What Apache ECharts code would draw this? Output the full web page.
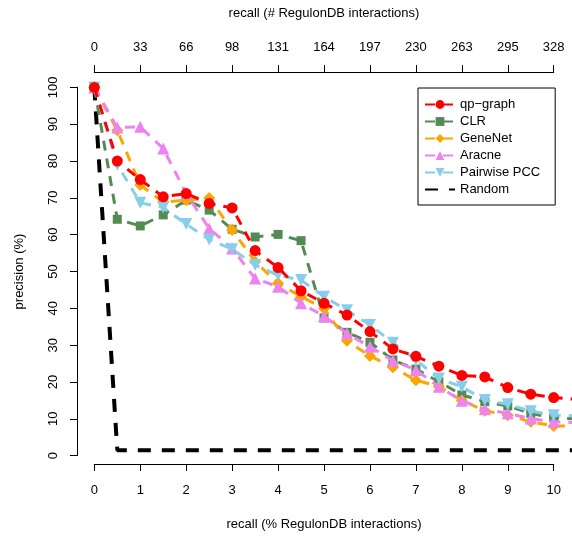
<!DOCTYPE html>
<html>
<head>
<meta charset="utf-8">
<script src="https://cdn.jsdelivr.net/npm/echarts@6/dist/echarts.min.js"></script>
<style>
html, body { margin: 0; padding: 0; background: #fff; }
#chart { width: 572px; height: 541px; }
</style>
</head>
<body>
<div id="chart"></div>
<script>
// recall in % of RegulonDB interactions
var recallPct = [0, 0.5, 1, 1.5, 2, 2.5, 3, 3.5, 4, 4.5, 5, 5.5, 6, 6.5, 7, 7.5, 8, 8.5, 9, 9.5, 10, 10.5];
// top axis labels (# RegulonDB interactions)
var topLabels = ['0', '33', '66', '98', '131', '164', '197', '230', '263', '295', '328'];

var qpGraph = [100, 80, 75, 70.3, 71.2, 68.5, 67.3, 55.7, 51.1, 44.8, 41.4, 38.2, 33.7, 29.0, 27.0, 24.3, 21.8, 21.4, 18.5, 16.7, 15.8, 15.3];
var clr = [100, 64.2, 62.4, 65.4, 69.4, 66.7, 61.5, 59.4, 60.1, 58.4, 37.4, 33.5, 30.8, 26.0, 23.5, 20.1, 16.5, 14.7, 13.5, 11.5, 10.3, 10.0];
var geneNet = [100, 88.4, 73.5, 68.9, 69.4, 70.0, 61.3, 52.7, 46.8, 43.2, 40.0, 31.2, 27.1, 24.0, 20.5, 18.8, 15.0, 12.2, 11.0, 9.2, 8.1, 8.0];
var aracne = [100, 89.1, 89.3, 83.4, 71.2, 61.7, 56.3, 48.1, 45.9, 41.4, 37.9, 33.2, 29.6, 25.8, 23.3, 18.7, 14.9, 12.6, 11.5, 10.1, 9.2, 9.0];
var pcc = [100, 79, 68.7, 67.4, 62.9, 58.7, 56.1, 51.8, 49.0, 47.7, 43.2, 39.5, 35.5, 30.7, 26.0, 21.0, 18.7, 15.1, 14.0, 12.1, 11.0, 10.8];
var random = [100, 1.5, 1.5, 1.5, 1.5, 1.5, 1.5, 1.5, 1.5, 1.5, 1.5, 1.5, 1.5, 1.5, 1.5, 1.5, 1.5, 1.5, 1.5, 1.5, 1.5, 1.5];

function pairs(ys) {
	return recallPct.map(function(x, i) { return [x, ys[i]]; });
}

var font = 'Liberation Sans';
var txt = { color : '#000', fontFamily : font, fontSize : 13 };

function mkSeries(name, ys, color, symbol, size, extra) {
	var s = {
		name : name,
		type : 'line',
		xAxisIndex : 0,
		yAxisIndex : 0,
		data : pairs(ys),
		symbol : symbol,
		symbolSize : size,
		lineStyle : { color : color, width : 3, type : [10, 8] },
		itemStyle : { color : color },
		clip : true
	};
	for (var k in extra) s[k] = extra[k];
	return s;
}

var myChart = echarts.init(document.getElementById('chart'));
var option = {
	animation : false,
	backgroundColor : '#fff',
	grid : [
		{ left : 77, right : 0, top : 72, bottom : 77 },
		{ left : 94.3, right : 18.3, top : 72, bottom : 77 },
		{ left : 77, right : 0, top : 87.3, bottom : 85.3 }
	],
	xAxis : [
		{ gridIndex : 0, type : 'value', min : -0.377, max : 10.398, show : false },
		{
			gridIndex : 1, type : 'value', position : 'bottom', min : 0, max : 10, interval : 1,
			name : 'recall (% RegulonDB interactions)', nameLocation : 'middle', nameGap : 54,
			nameTextStyle : txt,
			axisLine : { lineStyle : { color : '#000', width : 1 } },
			axisTick : { length : 7, lineStyle : { color : '#000' } },
			axisLabel : { margin : 20, color : '#000', fontFamily : font, fontSize : 13 },
			splitLine : { show : false }
		},
		{
			gridIndex : 1, type : 'value', position : 'top', min : 0, max : 10, interval : 1,
			name : 'recall (# RegulonDB interactions)', nameLocation : 'middle', nameGap : 52,
			nameTextStyle : txt,
			axisLine : { lineStyle : { color : '#000', width : 1 } },
			axisTick : { length : 7, lineStyle : { color : '#000' } },
			axisLabel : {
				margin : 18, color : '#000', fontFamily : font, fontSize : 13,
				formatter : function(v) { return topLabels[Math.round(v)]; }
			},
			splitLine : { show : false }
		},
		{ gridIndex : 2, type : 'value', show : false }
	],
	yAxis : [
		{ gridIndex : 0, type : 'value', min : -2.25, max : 104.2, show : false },
		{ gridIndex : 1, type : 'value', show : false },
		{
			gridIndex : 2, type : 'value', position : 'left', min : 0, max : 100, interval : 10,
			name : 'precision (%)', nameLocation : 'middle', nameGap : 51,
			nameTextStyle : txt,
			axisLine : { show : true, lineStyle : { color : '#000', width : 1 } },
			axisTick : { show : true, length : 7, lineStyle : { color : '#000' } },
			axisLabel : { rotate : 90, margin : 17, color : '#000', fontFamily : font, fontSize : 13 },
			splitLine : { show : false }
		}
	],
	legend : {
		orient : 'vertical',
		left : 418,
		top : 88,
		padding : [10, 15, 9, 6],
		itemGap : 4,
		itemWidth : 30,
		itemHeight : 11,
		borderColor : '#000',
		borderWidth : 1,
		borderRadius : 0,
		textStyle : txt,
		data : ['qp\u2212graph', 'CLR', 'GeneNet', 'Aracne', 'Pairwise PCC',
			{ name : 'Random', itemStyle : { opacity : 0 } }]
	},
	series : [
		mkSeries('Random', random, '#000', 'none', 0, { lineStyle : { color : '#000', width : 4, type : [13, 11] }, z : 1 }),
		mkSeries('CLR', clr, '#548B54', 'rect', 9, { z : 2 }),
		mkSeries('GeneNet', geneNet, '#FFA500', 'diamond', 12, { z : 3 }),
		mkSeries('Aracne', aracne, '#EE82EE', 'triangle', 12, { z : 4 }),
		mkSeries('Pairwise PCC', pcc, '#87CEEB', 'triangle', 12, { symbolRotate : 180, z : 5 }),
		mkSeries('qp\u2212graph', qpGraph, '#FF0000', 'circle', 11, { z : 6 })
	]
};
myChart.setOption(option);
</script>
</body>
</html>
